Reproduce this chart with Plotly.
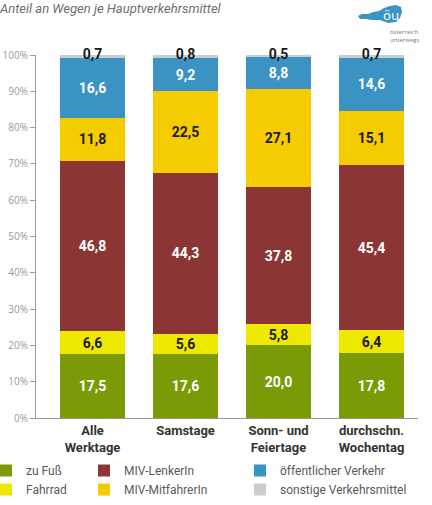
import plotly.graph_objects as go

# ---------------- data ----------------
categories = ["Alle<br>Werktage", "Samstage", "Sonn- und<br>Feiertage", "durchschn.<br>Wochentag"]
zu_fuss = [17.5, 17.6, 20.0, 17.8]
fahrrad = [6.6, 5.6, 5.8, 6.4]
miv_lenker = [46.8, 44.3, 37.8, 45.4]
miv_mitfahrer = [11.8, 22.5, 27.1, 15.1]
oeffentlich = [16.6, 9.2, 8.8, 14.6]
sonstige = [0.7, 0.8, 0.5, 0.7]
y_tick_vals = [0, 10, 20, 30, 40, 50, 60, 70, 80, 90, 100]
y_tick_text = [f"{v}%" for v in y_tick_vals]
title_text = "Anteil an Wegen je Hauptverkehrsmittel"

# ---------------- layout helpers ----------------
W, H = 432, 505
ML, MR, MT, MB = 36, 14, 55, 87
PW, PH = W - ML - MR, H - MT - MB


def px(x):
    return (x - ML) / PW


def py(y):
    return (H - MB - y) / PH


series = [
    ("zu Fuß", zu_fuss, "#7a9a06", "white", "legend"),
    ("Fahrrad", fahrrad, "#eee800", "#1a1a1a", "legend"),
    ("MIV-LenkerIn", miv_lenker, "#8b3634", "white", "legend2"),
    ("MIV-MitfahrerIn", miv_mitfahrer, "#f4cc00", "#1a1a1a", "legend2"),
    ("öffentlicher Verkehr", oeffentlich, "#3a93c3", "white", "legend3"),
    ("sonstige Verkehrsmittel", sonstige, "#cacdd0", "#1a1a1a", "legend3"),
]

xs = list(range(len(categories)))
fig = go.Figure()
for name, vals, col, tcol, leg in series:
    is_top = name == "sonstige Verkehrsmittel"
    fig.add_trace(go.Bar(
        x=xs, y=vals, name=name,
        marker=dict(color=col, line=dict(width=0)),
        texttemplate=None if is_top else "%{y:.1f}",
        textposition="none" if is_top else "inside", insidetextanchor="middle",
        constraintext="none", textangle=0,
        textfont=dict(family="Roboto", size=14, color=tcol, weight="bold"),
        legend=leg, hoverinfo="skip",
    ))

# labels of the tiny top segment, placed at the top of each stack
totals = [sum(s[1][i] for s in series) for i in xs]
fig.add_trace(go.Scatter(
    x=xs, y=totals, mode="text", text=sonstige, texttemplate="%{text:.1f}",
    textposition="middle center", cliponaxis=False, showlegend=False,
    textfont=dict(family="Roboto", size=14, color="#1a1a1a", weight="bold"),
    hoverinfo="skip",
))

legend_font = dict(family="Roboto", size=12, color="#5a5a5a")
leg_common = dict(orientation="v", traceorder="normal", font=legend_font,
                  bgcolor="rgba(0,0,0,0)", borderwidth=0, xanchor="left",
                  yanchor="top", itemclick=False, itemdoubleclick=False,
                  tracegroupgap=0, xref="paper", yref="paper")

fig.update_layout(
    width=W, height=H,
    margin=dict(l=ML, r=MR, t=MT, b=MB, pad=0, autoexpand=False),
    paper_bgcolor="white", plot_bgcolor="white",
    barmode="stack", bargap=0.306,
    separators=",.",
    showlegend=True,
    legend=dict(x=px(-14), y=py(456), **leg_common),
    legend2=dict(x=px(84), y=py(456), **leg_common),
    legend3=dict(x=px(240), y=py(456), **leg_common),
    title=dict(text=title_text, xref="container", x=0.0, xanchor="left",
               yref="container", y=1 - 8 / H, yanchor="middle",
               font=dict(family="Roboto", size=13, color="#6e6e6e", style="italic")),
    xaxis=dict(
        tickmode="array", tickvals=xs, ticktext=categories, automargin=False,
        range=[-0.608, 3.5], showline=True, linecolor="#9a9a9a", linewidth=1,
        ticks="", showgrid=False, zeroline=False,
        tickfont=dict(family="Roboto", size=13, color="#333333", weight="bold"),
    ),
    yaxis=dict(
        range=[0, 100], tickmode="array", tickvals=y_tick_vals, ticktext=y_tick_text,
        automargin=False,
        showline=True, linecolor="#9a9a9a", linewidth=1, ticks="outside",
        ticklen=5, tickcolor="#9a9a9a", showgrid=False, zeroline=False,
        tickfont=dict(family="Open Sans", size=10, color="#9a9a9a"),
    ),
)

# ---------------- logo (decorative) ----------------
logo_pts = [(358, 16), (362, 14), (368, 14), (373, 12), (379, 11), (384, 8), (390, 6),
            (396, 5), (401, 7), (402, 12), (400, 18), (396, 22), (388, 23), (380, 20),
            (372, 20), (366, 19), (360, 19)]
path = "M " + " L ".join(f"{px(a):.5f},{py(b):.5f}" for a, b in logo_pts) + " Z"
fig.add_shape(type="path", path=path, xref="paper", yref="paper", layer="below",
              fillcolor="#3a93c3", line=dict(width=0))
fig.add_annotation(text="öu", xref="paper", yref="paper", x=px(391), y=py(15),
                   xanchor="center", yanchor="middle",
                   showarrow=False, font=dict(family="DejaVu Sans", size=13, color="#f4fbff"))
fig.add_annotation(text="österreich<br>unterwegs", xref="paper", yref="paper",
                   x=px(388), y=py(26), xanchor="left", yanchor="top", align="left",
                   showarrow=False,
                   font=dict(family="Open Sans", size=6, color="#777777"))

fig.write_html("out.html")
